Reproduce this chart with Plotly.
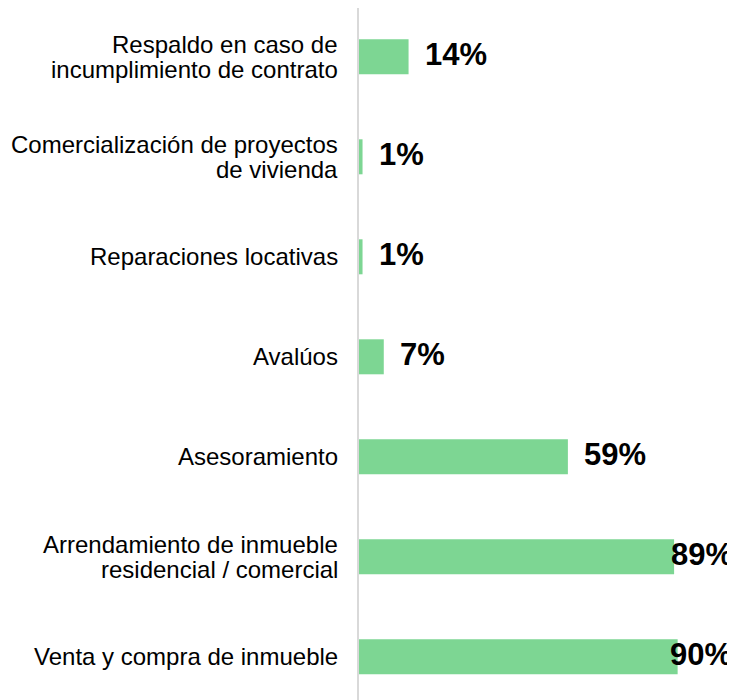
import plotly.graph_objects as go

# Datos (de arriba hacia abajo)
categorias = [
    'Respaldo en caso de<br>incumplimiento de contrato',
    'Comercialización de proyectos<br>de vivienda',
    'Reparaciones locativas',
    'Avalúos',
    'Asesoramiento',
    'Arrendamiento de inmueble<br>residencial / comercial',
    'Venta y compra de inmueble',
]
valores = [14, 1, 1, 7, 59, 89, 90]
etiquetas = ['14%', '1%', '1%', '7%', '59%', '89%', '90%']

# desplazamiento horizontal de cada etiqueta de valor (px)
desplazamientos = [14, 14, 14, 14, 14, -5, -10]

verde = '#7dd693'
fuente = 'Liberation Sans, Arial, sans-serif'

fig = go.Figure()
fig.add_trace(go.Bar(
    y=categorias,
    x=valores,
    orientation='h',
    width=0.35,
    marker=dict(color=verde, line=dict(width=0)),
    hoverinfo='skip',
))

# etiquetas de valor
for cat, val, txt, dx in zip(categorias, valores, etiquetas, desplazamientos):
    fig.add_annotation(
        x=val, y=cat,
        text=f'<b>{txt}</b>',
        showarrow=False,
        xanchor='left', yanchor='middle',
        xshift=dx, yshift=2,
        font=dict(family=fuente, size=31, color='black'),
    )

# etiquetas de categoría (líneas separadas para un interlineado más compacto)
for cat in categorias:
    lineas = cat.split('<br>')
    n = len(lineas)
    for i, linea in enumerate(lineas):
        fig.add_annotation(
            xref='paper', x=0, y=cat,
            text=linea,
            showarrow=False,
            xanchor='right', yanchor='middle',
            xshift=-19, yshift=(n - 1) * 12.5 - i * 25,
            font=dict(family=fuente, size=24, color='black'),
        )

fig.update_layout(
    width=727, height=692,
    margin=dict(l=351, r=0, t=0, b=0),
    plot_bgcolor='white',
    paper_bgcolor='white',
    showlegend=False,
    xaxis=dict(
        range=[0, 106.2],
        showgrid=False, zeroline=False, showline=False,
        showticklabels=False, ticks='',
    ),
    yaxis=dict(
        categoryorder='array', categoryarray=categorias,
        range=[6.432, -0.488],
        showgrid=False, zeroline=False,
        showline=True, linecolor='#d9d9d9', linewidth=2,
        ticks='', showticklabels=False,
    ),
)

fig.write_html("out.html")
